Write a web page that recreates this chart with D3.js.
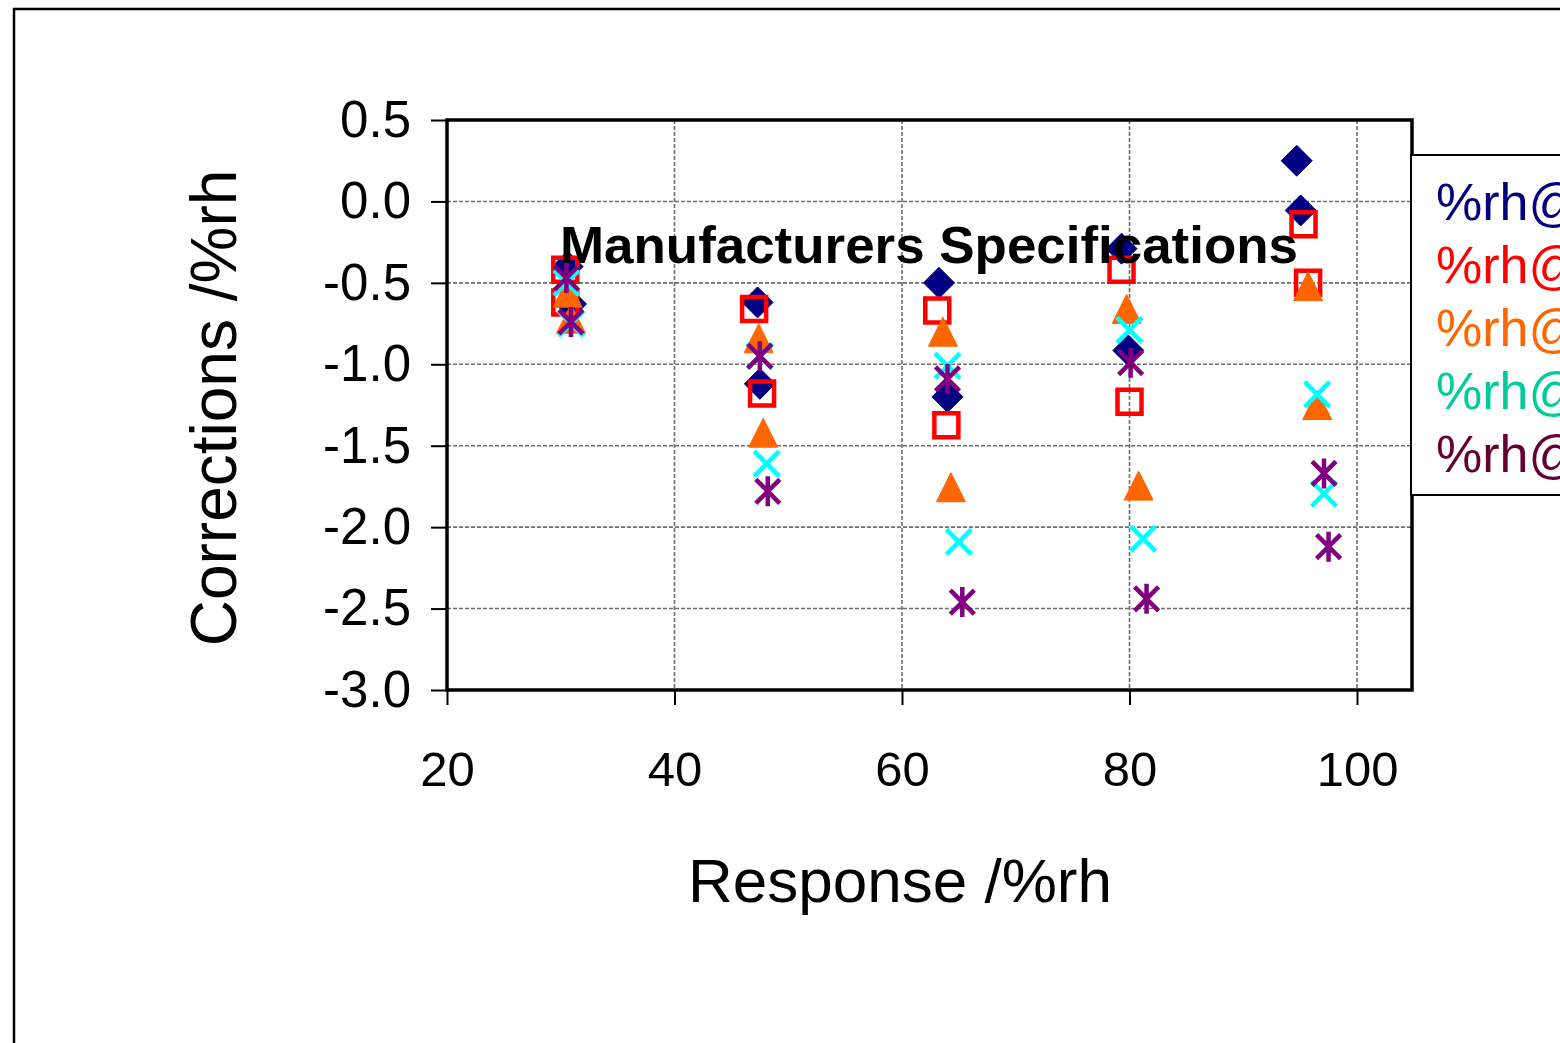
<!DOCTYPE html>
<html>
<head>
<meta charset="utf-8">
<script src="https://cdn.jsdelivr.net/npm/d3@7/dist/d3.min.js"></script>
<style>
html,body{margin:0;padding:0;background:#fff;overflow:hidden;}
svg{display:block;font-family:"Liberation Sans",Arial,sans-serif;}
</style>
</head>
<body>
<svg id="chart" width="1560" height="1043"></svg>
<script>
// ---- data ----
const seriesNames = ["%rh@", "%rh@", "%rh@", "%rh@", "%rh@"];
const markerColors = ["#000080", "#FF0000", "#FF6600", "#00FFFF", "#800080"];
const legendColors = ["#000080", "#FF0000", "#FF6600", "#00CC99", "#660033"];
const markerKinds = ["diamond", "square", "triangle", "cross", "asterisk"];

const s1x = [30.6, 30.9, 47.3, 47.5, 63.25, 64.0, 79.3, 79.9, 94.7, 95.05];
const s1y = [-0.40, -0.63, -0.62, -1.12, -0.50, -1.20, -0.29, -0.915, 0.25, -0.055];
const s2x = [30.4, 30.4, 47.0, 47.7, 63.1, 63.9, 79.3, 80.0, 95.3, 95.7];
const s2y = [-0.42, -0.62, -0.66, -1.18, -0.67, -1.375, -0.42, -1.23, -0.14, -0.50];
const s3x = [30.6, 30.9, 47.4, 47.8, 63.6, 64.3, 79.75, 80.8, 95.7, 96.5];
const s3y = [-0.56, -0.72, -0.84, -1.42, -0.80, -1.755, -0.66, -1.745, -0.52, -1.25];
const s4x = [30.5, 30.9, 47.5, 48.1, 64.0, 65.0, 80.0, 81.2, 96.5, 97.1];
const s4y = [-0.50, -0.75, -0.95, -1.61, -1.01, -2.09, -0.79, -2.07, -1.185, -1.795];
const s5x = [30.5, 30.9, 47.5, 48.2, 64.0, 65.3, 80.1, 81.5, 97.1, 97.5];
const s5y = [-0.47, -0.74, -0.95, -1.78, -1.09, -2.46, -0.99, -2.44, -1.67, -2.12];

const xTicks = [20, 40, 60, 80, 100];
const yTicks = [0.5, 0.0, -0.5, -1.0, -1.5, -2.0, -2.5, -3.0];
const xGrid = [40, 60, 80, 100];
const yGrid = [0.0, -0.5, -1.0, -1.5, -2.0, -2.5];
const annotation = "Manufacturers Specifications";
const xTitle = "Response /%rh";
const yTitle = "Corrections /%rh";

const seriesX = [s1x, s2x, s3x, s4x, s5x];
const seriesY = [s1y, s2y, s3y, s4y, s5y];

// ---- layout ----
const svg = d3.select("#chart");
const L = 447, R = 1412, T = 120, B = 690;
const x = d3.scaleLinear().domain([20, 105]).range([L, L + 85 * (910 / 80)]);
const y = d3.scaleLinear().domain([-3, 0.5]).range([B, T]);

// outer frame
svg.append("rect").attr("x", 14).attr("y", 9).attr("width", 1600).attr("height", 1100)
  .attr("fill", "#fff").attr("stroke", "#000").attr("stroke-width", 2.5);

// gridlines
const grid = svg.append("g").attr("stroke", "#6e6e6e").attr("stroke-width", 1.6).attr("stroke-dasharray", "4,2");
grid.selectAll("line.h").data(yGrid).join("line").attr("class", "h")
  .attr("x1", L).attr("x2", R).attr("y1", d => y(d)).attr("y2", d => y(d));
grid.selectAll("line.v").data(xGrid).join("line").attr("class", "v")
  .attr("x1", d => x(d)).attr("x2", d => x(d)).attr("y1", T).attr("y2", B);

// axes
const yAxis = d3.axisLeft(y).tickValues(yTicks).tickSize(16).tickPadding(20)
  .tickFormat(d3.format(".1f"));
const gy = svg.append("g").attr("transform", `translate(${L},0)`).call(yAxis);
gy.select(".domain").remove();
gy.selectAll(".tick line").attr("stroke", "#000").attr("stroke-width", 2);
gy.selectAll(".tick text").attr("font-size", 51).attr("fill", "#000")
  .attr("font-family", "Liberation Sans, Arial, sans-serif").text(d => d3.format(".1f")(d).replace("−", "-"));

const xAxis = d3.axisBottom(x).tickValues(xTicks).tickSize(15).tickPadding(46);
const gx = svg.append("g").attr("transform", `translate(0,${B})`).call(xAxis);
gx.select(".domain").remove();
gx.selectAll(".tick line").attr("stroke", "#000").attr("stroke-width", 2);
gx.selectAll(".tick text").attr("font-size", 49).attr("fill", "#000")
  .attr("font-family", "Liberation Sans, Arial, sans-serif");

// plot frame
svg.append("rect").attr("x", L).attr("y", T).attr("width", R - L).attr("height", B - T)
  .attr("fill", "none").attr("stroke", "#000").attr("stroke-width", 3.5);

// markers
const sym = {
  diamond: { draw(c, s) { const r = Math.sqrt(s) / 2; c.moveTo(0, -r); c.lineTo(r, 0); c.lineTo(0, r); c.lineTo(-r, 0); c.closePath(); } },
  square: { draw(c, s) { const r = Math.sqrt(s) / 2; c.rect(-r, -r, 2 * r, 2 * r); } },
  triangle: { draw(c, s) { const r = Math.sqrt(s) / 2; c.moveTo(0, -r); c.lineTo(r, r); c.lineTo(-r, r); c.closePath(); } },
  cross: { draw(c, s) { const r = Math.sqrt(s) / 2; c.moveTo(-r, -r); c.lineTo(r, r); c.moveTo(r, -r); c.lineTo(-r, r); } },
  asterisk: { draw(c, s) { const r = Math.sqrt(s) / 2; c.moveTo(-r, -r); c.lineTo(r, r); c.moveTo(r, -r); c.lineTo(-r, r); c.moveTo(0, -r * 1.25); c.lineTo(0, r * 1.25); } }
};
const sizes = { diamond: 31 * 31, square: 24 * 24, triangle: 29 * 29, cross: 25 * 25, asterisk: 24 * 24 };

seriesX.forEach((xs, i) => {
  const kind = markerKinds[i];
  const pts = xs.map((v, j) => ({ x: v, y: seriesY[i][j] }));
  const path = d3.symbol().type(sym[kind]).size(sizes[kind]);
  const g = svg.append("g");
  const filled = kind === "diamond" || kind === "triangle";
  g.selectAll("path").data(pts).join("path")
    .attr("transform", d => `translate(${x(d.x)},${y(d.y)})`)
    .attr("d", path)
    .attr("fill", filled ? markerColors[i] : "none")
    .attr("stroke", filled ? markerColors[i] : markerColors[i])
    .attr("stroke-width", filled ? 1 : 4.5)
    .attr("stroke-linejoin", filled ? "round" : "miter");
});

// annotation text
svg.append("text").attr("x", 560).attr("y", 263).attr("font-size", 52).attr("font-weight", "bold")
  .attr("fill", "#000").attr("textLength", 738).attr("lengthAdjust", "spacingAndGlyphs").text(annotation);

// axis titles
svg.append("text").attr("x", 900).attr("y", 902).attr("text-anchor", "middle").attr("font-size", 62)
  .attr("fill", "#000").text(xTitle);
svg.append("text").attr("transform", "translate(236,408) rotate(-90)").attr("text-anchor", "middle")
  .attr("font-size", 64).attr("fill", "#000").text(yTitle);

// legend
const lg = svg.append("g");
lg.append("rect").attr("x", 1411).attr("y", 155).attr("width", 300).attr("height", 340)
  .attr("fill", "#fff").attr("stroke", "#000").attr("stroke-width", 2);
lg.selectAll("text").data(seriesNames).join("text")
  .attr("x", 1436).attr("y", (d, i) => 220 + i * 63)
  .attr("font-size", 52).attr("fill", (d, i) => legendColors[i]).text(d => d);
</script>
</body>
</html>
